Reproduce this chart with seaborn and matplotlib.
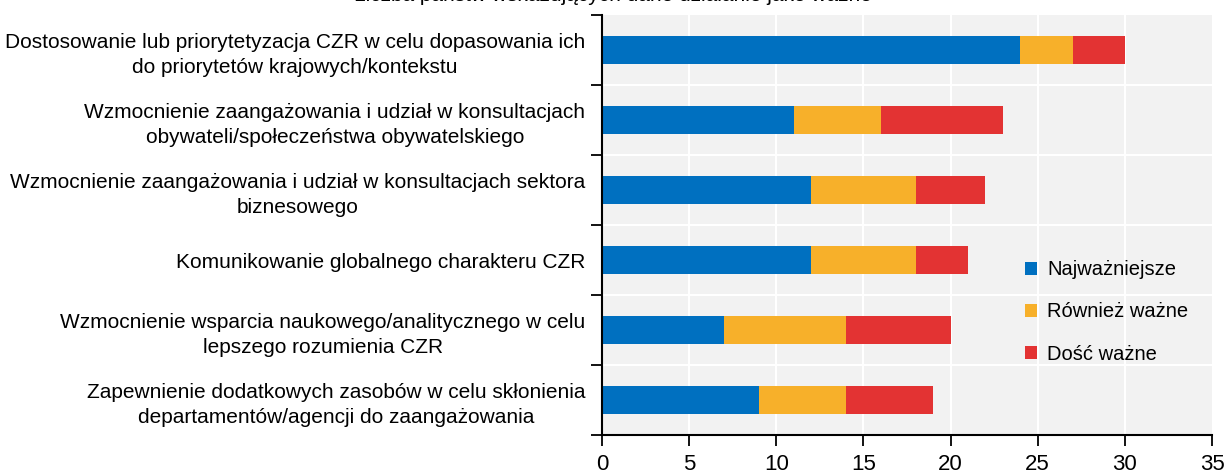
import numpy as np
import pandas as pd
import seaborn as sns
from matplotlib import pyplot as plt
from matplotlib.ticker import FixedLocator


CATEGORIES = [
    "Dostosowanie lub priorytetyzacja CZR w celu dopasowania ich\ndo priorytetów krajowych/kontekstu",
    "Wzmocnienie zaangażowania i udział w konsultacjach\nobywateli/społeczeństwa obywatelskiego",
    "Wzmocnienie zaangażowania i udział w konsultacjach sektora\nbiznesowego",
    "Komunikowanie globalnego charakteru CZR",
    "Wzmocnienie wsparcia naukowego/analitycznego w celu\nlepszego rozumienia CZR",
    "Zapewnienie dodatkowych zasobów w celu skłonienia\ndepartamentów/agencji do zaangażowania",
]
MOST_IMPORTANT = [24, 11, 12, 12, 7, 9]
ALSO_IMPORTANT = [3, 5, 6, 6, 7, 5]
FAIRLY_IMPORTANT = [3, 7, 4, 3, 6, 5]
SERIES = ["Najważniejsze", "Również ważne", "Dość ważne"]
COLORS = ["#0070C0", "#F7B02A", "#E33333"]
X_TICKS = [0, 5, 10, 15, 20, 25, 30, 35]
TITLE = "Liczba państw wskazujących dane działanie jako ważne"


def main() -> None:
    sns.set_theme(style="white")
    plt.rcParams["font.family"] = ["Liberation Sans Narrow", "Liberation Sans", "DejaVu Sans"]
    plt.rcParams["text.color"] = "black"
    plt.rcParams["xtick.color"] = "black"
    plt.rcParams["ytick.color"] = "black"

    df = pd.DataFrame(
        {
            "category": CATEGORIES,
            SERIES[0]: MOST_IMPORTANT,
            SERIES[1]: ALSO_IMPORTANT,
            SERIES[2]: FAIRLY_IMPORTANT,
        }
    )
    cum = df[SERIES].cumsum(axis=1)

    fig = plt.figure(figsize=(12.26, 4.76), dpi=100)
    ax = fig.add_axes([602 / 1226, 1 - 435 / 476, 610 / 1226, 420 / 476])
    ax.set_facecolor("#F2F2F2")

    # stacked bars: draw cumulative totals back to front
    for name, color in reversed(list(zip(SERIES, COLORS))):
        sns.barplot(
            x=cum[name],
            y=df["category"],
            order=CATEGORIES,
            orient="h",
            color=color,
            width=0.4,
            saturation=1,
            edgecolor="none",
            linewidth=0,
            label=name,
            ax=ax,
        )

    ax.set_xlim(0, 35)
    ax.set_ylim(len(CATEGORIES) - 0.5, -0.5)
    ax.xaxis.set_major_locator(FixedLocator(X_TICKS))
    ax.yaxis.set_minor_locator(FixedLocator(np.arange(-0.5, len(CATEGORIES), 1.0)))
    ax.set_xlabel("")
    ax.set_ylabel("")

    for x in X_TICKS[1:-1]:
        ax.axvline(x, color="white", linewidth=1.5, zorder=0.5)
    for y in np.arange(0.5, len(CATEGORIES) - 0.5, 1.0):
        ax.axhline(y, color="white", linewidth=1.5, zorder=0.5)
    ax.set_axisbelow(True)

    for side in ("top", "right"):
        ax.spines[side].set_visible(False)
    for side in ("left", "bottom"):
        ax.spines[side].set_color("black")
        ax.spines[side].set_linewidth(1.5)

    ax.tick_params(axis="x", direction="out", length=8, width=1.3,
                   labelsize=16, pad=6, bottom=True)
    ax.tick_params(axis="y", which="major", length=0, labelsize=15, pad=12)
    ax.tick_params(axis="y", which="minor", direction="out", length=8, width=1.3,
                   left=True)
    for lbl in ax.get_yticklabels():
        lbl.set_multialignment("center")
        lbl.set_linespacing(1.4)

    handles, labels = ax.get_legend_handles_labels()
    order = [labels.index(s) for s in SERIES]
    ax.legend(
        [handles[i] for i in order],
        [labels[i] for i in order],
        loc="center left",
        bbox_to_anchor=(0.664, 0.293),
        frameon=False,
        fontsize=14.5,
        handlelength=0.6,
        handleheight=0.6,
        handletextpad=0.5,
        labelspacing=1.15,
    )

    fig.text(0.5, 1 - 1 / 476, TITLE, ha="center", va="baseline", fontsize=15)

    fig.savefig("out.png", dpi=100)


if __name__ == "__main__":
    main()
